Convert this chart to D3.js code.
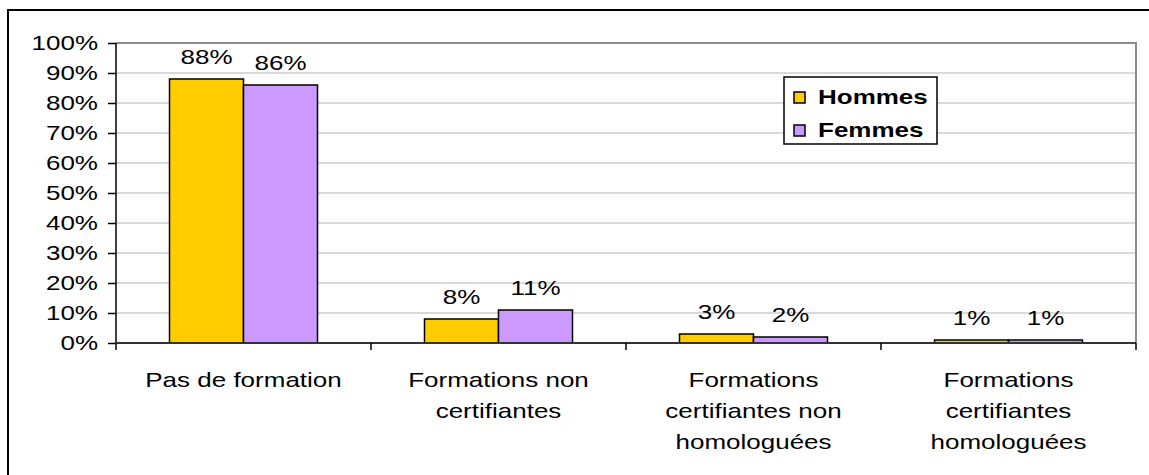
<!DOCTYPE html>
<html><head><meta charset="utf-8">
<script src="https://cdn.jsdelivr.net/npm/d3@7"></script>
<style>html,body{margin:0;padding:0;background:#fff;}svg{display:block;}</style>
</head><body>
<script>
const categories = [["Pas de formation"], ["Formations non", "certifiantes"], ["Formations", "certifiantes non", "homologuées"], ["Formations", "certifiantes", "homologuées"]];
const seriesNames = ["Hommes", "Femmes"];
const hommes = [88, 8, 3, 1];
const femmes = [86, 11, 2, 1];
const yTicks = [0,10,20,30,40,50,60,70,80,90,100];
const colors = ["#FFCC00", "#CC99FF"];

(function(){
const W = 1149, H = 475;
const SX = 1.3, FS = 20;
const svg = d3.select("body").append("svg").attr("width", W).attr("height", H)
  .style("font-family", "'Liberation Sans', Arial, sans-serif");

// outer frame
svg.append("rect").attr("x", 8).attr("y", 10).attr("width", W + 20).attr("height", H + 20)
  .attr("fill", "#fff").attr("stroke", "#000").attr("stroke-width", 2);

const pL = 116, pR = 1136, pT = 43, pB = 343;
const x0 = d3.scaleBand().domain(d3.range(categories.length)).range([pL, pR]);
const x1 = d3.scaleBand().domain(d3.range(seriesNames.length)).range([0, 148]);
const y = d3.scaleLinear().domain([0, 100]).range([pB, pT]);

function stext(g, x, yy, str, anchor, bold) {
  const t = g.append("g").attr("transform", `translate(${x},${yy}) scale(${SX},1)`)
    .append("text").attr("text-anchor", anchor).attr("font-size", FS).attr("fill", "#000").text(str);
  if (bold) t.attr("font-weight", "bold");
  return t;
}

// gridlines
svg.append("g").selectAll("line").data(yTicks.filter(d => d > 0 && d < 100)).join("line")
  .attr("x1", pL).attr("x2", pR).attr("y1", d => y(d)).attr("y2", d => y(d))
  .attr("stroke", "#d9d9d9").attr("stroke-width", 2);
// plot frame top/right
svg.append("path").attr("d", `M${pL},${pT}H${pR}V${pB}`)
  .attr("fill", "none").attr("stroke", "#8c8c8c").attr("stroke-width", 2);

// bars
const series = [hommes, femmes];
series.forEach((vals, si) => {
  svg.append("g").selectAll("rect").data(vals).join("rect")
    .attr("x", (d, i) => x0(i) + (x0.bandwidth() - 148) / 2 + x1(si))
    .attr("y", d => y(d)).attr("width", x1.bandwidth()).attr("height", d => pB - y(d))
    .attr("fill", colors[si]).attr("stroke", "#000").attr("stroke-width", 1.5);
  const lg = svg.append("g");
  vals.forEach((d, i) => {
    stext(lg, x0(i) + (x0.bandwidth() - 148) / 2 + x1(si) + x1.bandwidth() / 2, y(d) - 15, d + "%", "middle");
  });
});

// y axis
const yAxis = d3.axisLeft(y).tickValues(yTicks).tickSize(8).tickFormat("").tickSizeOuter(0);
const ya = svg.append("g").attr("transform", `translate(${pL},0)`).call(yAxis);
ya.select(".domain").attr("stroke", "#000").attr("stroke-width", 1.5).attr("d", `M0,${pT}V${pB + 7}`);
ya.selectAll(".tick line").attr("stroke", "#000").attr("stroke-width", 1.5);
const ylg = svg.append("g");
yTicks.forEach(t => stext(ylg, 98, y(t) + 7, t + "%", "end"));

// x axis
svg.append("line").attr("x1", pL).attr("x2", pR).attr("y1", pB).attr("y2", pB)
  .attr("stroke", "#333").attr("stroke-width", 2);
svg.append("g").selectAll("line").data(d3.range(1, categories.length + 1)).join("line")
  .attr("x1", i => i < categories.length ? x0(i) : pR).attr("x2", i => i < categories.length ? x0(i) : pR)
  .attr("y1", pB).attr("y2", pB + 7).attr("stroke", "#000").attr("stroke-width", 1.5);
const xlg = svg.append("g");
categories.forEach((lines, i) => {
  lines.forEach((ln, li) => stext(xlg, x0(i) + x0.bandwidth() / 2, 387 + li * 31, ln, "middle"));
});

// legend
const leg = svg.append("g");
leg.append("rect").attr("x", 784).attr("y", 77).attr("width", 153).attr("height", 67)
  .attr("fill", "#fff").attr("stroke", "#000").attr("stroke-width", 1.5);
seriesNames.forEach((n, i) => {
  leg.append("rect").attr("x", 794).attr("y", 92 + i * 33).attr("width", 11).attr("height", 11)
    .attr("fill", colors[i]).attr("stroke", "#000").attr("stroke-width", 1.5);
  stext(leg, 818, 104 + i * 33, n, "start", true);
});
})();
</script>
</body></html>
